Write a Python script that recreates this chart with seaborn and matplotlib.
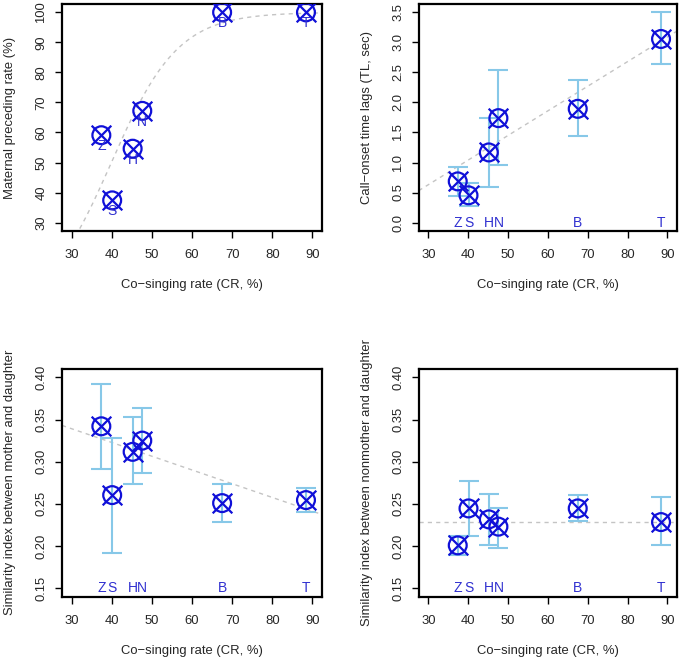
import numpy as np
import pandas as pd
import seaborn as sns
import matplotlib
matplotlib.use("Agg")
from matplotlib import pyplot as plt

# group labels and co-singing rate (x)
groups = ["Z", "S", "H", "N", "B", "T"]
co_singing = [37.4, 40.1, 45.2, 47.6, 67.5, 88.4]

# panel A: maternal preceding rate (%)
maternal_preceding = [59.1, 37.4, 54.6, 67.2, 100.0, 100.0]

# panel B: call-onset time lags (sec) with error bar limits
time_lag = [0.686, 0.454, 1.168, 1.739, 1.894, 3.057]
time_lag_hi = [0.919, 0.653, 1.740, 2.540, 2.375, 3.500]
time_lag_lo = [0.449, 0.271, 0.598, 0.958, 1.434, 2.636]

# panel C: similarity mother-daughter
sim_mother = [0.342, 0.2604, 0.3117, 0.325, 0.2509, 0.2545]
sim_mother_hi = [0.3925, 0.3286, 0.3531, 0.3633, 0.2734, 0.2686]
sim_mother_lo = [0.2916, 0.1922, 0.2734, 0.2864, 0.2284, 0.2407]

# panel D: similarity nonmother-daughter
sim_nonmother = [0.2008, 0.2446, 0.2316, 0.2230, 0.2446, 0.2284]
sim_nonmother_hi = [0.2115, 0.2777, 0.2620, 0.2453, 0.2604, 0.2581]
sim_nonmother_lo = [0.1893, 0.2118, 0.2008, 0.1981, 0.2297, 0.2008]

# fitted trend lines
logistic_k, logistic_x0 = 0.12, 39.9
lag_slope, lag_intercept = 0.041, -0.60
mother_slope, mother_intercept = -0.00163, 0.388
nonmother_level = 0.229

BLUE = "#1010d8"
LABEL_BLUE = "#3030d0"
ERR = "#87c8e8"
FIT = "#c4c4c4"
FS = 9.4

sns.set_style("white")
plt.rcParams['font.family'] = ['Liberation Sans', 'DejaVu Sans']
plt.rcParams['font.size'] = FS

fig = plt.figure(figsize=(6.83, 6.6), dpi=100)
axA = fig.add_axes([0.0908, 0.650, 0.3807, 0.344])
axB = fig.add_axes([0.6130, 0.650, 0.3782, 0.344])
axC = fig.add_axes([0.0908, 0.096, 0.3807, 0.345])
axD = fig.add_axes([0.6130, 0.096, 0.3782, 0.345])

xgrid = np.linspace(27.6, 92.4, 300)


def style_axes(ax, ylim, yticks, yfmt, ylabel):
    pad = (ylim[1] - ylim[0]) * 0.04
    ax.set_xlim(27.6, 92.4)
    ax.set_ylim(ylim[0] - pad, ylim[1] + pad)
    ax.set_xticks(range(30, 91, 10))
    ax.set_yticks(yticks)
    ax.set_yticklabels([yfmt.format(v) for v in yticks], rotation=90, va="center")
    for s in ax.spines.values():
        s.set_visible(True)
        s.set_color("black")
        s.set_linewidth(1.6)
    ax.tick_params(direction="out", length=5, width=1, color="black",
                   labelsize=FS, pad=8, left=True, bottom=True)
    ax.tick_params(axis="y", pad=5.5)
    ax.set_xlabel("Co\u2212singing rate (CR, %)", fontsize=FS, labelpad=13)
    ax.set_ylabel(ylabel, fontsize=FS, labelpad=14)


def draw_points(ax, y, lo=None, hi=None):
    if lo is not None:
        yerr = [np.array(y) - np.array(lo), np.array(hi) - np.array(y)]
        ax.errorbar(co_singing, y, yerr=yerr, fmt="none", ecolor=ERR,
                    elinewidth=1.5, capsize=7, capthick=1.5, zorder=2)
    df = pd.DataFrame({"x": co_singing, "y": y})
    sns.scatterplot(data=df, x="x", y="y", ax=ax, marker="o", s=165,
                    facecolor="none", edgecolor=BLUE, linewidth=1.6, zorder=3)
    sns.scatterplot(data=df, x="x", y="y", ax=ax, marker="x", s=200,
                    color=BLUE, linewidth=1.6, zorder=3)


def fit_line(ax, yfit):
    sns.lineplot(x=xgrid, y=yfit, ax=ax, color=FIT, linewidth=1,
                 linestyle=(0, (3, 3)), zorder=1)


# panel A
fit_line(axA, 100 / (1 + np.exp(-logistic_k * (xgrid - logistic_x0))))
draw_points(axA, maternal_preceding)
for g, x, y in zip(groups, co_singing, maternal_preceding):
    axA.annotate(g, (x, y), xytext=(0, -8), textcoords="offset points",
                 ha="center", va="center", color=LABEL_BLUE, fontsize=FS + 0.6,
                 zorder=5)
style_axes(axA, (30, 100), range(30, 101, 10), "{:d}", "Maternal preceding rate (%)")

# panel B
fit_line(axB, lag_intercept + lag_slope * xgrid)
draw_points(axB, time_lag, time_lag_lo, time_lag_hi)
for g, x in zip(groups, co_singing):
    axB.text(x, 0.0, g, ha="center", va="center", color=LABEL_BLUE, fontsize=FS + 0.6)
style_axes(axB, (0, 3.5), np.arange(0, 3.51, 0.5), "{:.1f}", "Call\u2212onset time lags (TL, sec)")

# panel C
fit_line(axC, mother_intercept + mother_slope * xgrid)
draw_points(axC, sim_mother, sim_mother_lo, sim_mother_hi)
for g, x in zip(groups, co_singing):
    axC.text(x, 0.15, g, ha="center", va="center", color=LABEL_BLUE, fontsize=FS + 0.6)
style_axes(axC, (0.15, 0.40), np.arange(0.15, 0.401, 0.05), "{:.2f}",
           "Similarity index between mother and daughter")

# panel D
fit_line(axD, np.full_like(xgrid, nonmother_level))
draw_points(axD, sim_nonmother, sim_nonmother_lo, sim_nonmother_hi)
for g, x in zip(groups, co_singing):
    axD.text(x, 0.15, g, ha="center", va="center", color=LABEL_BLUE, fontsize=FS + 0.6)
style_axes(axD, (0.15, 0.40), np.arange(0.15, 0.401, 0.05), "{:.2f}",
           "Similarity index between nonmother and daughter")

fig.savefig("out.png", dpi=100)
